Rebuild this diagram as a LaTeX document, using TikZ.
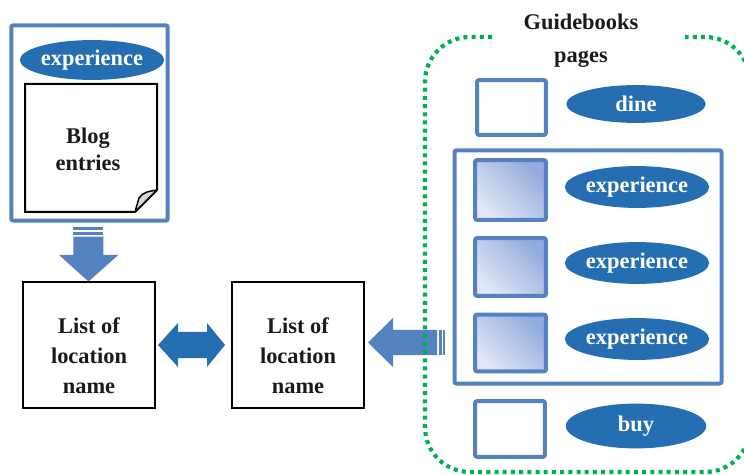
\documentclass[tikz,border=0pt]{standalone}
\usepackage{fontspec}
\setmainfont{Liberation Serif}
\usetikzlibrary{shapes.geometric}

\definecolor{frameblue}{RGB}{84,130,193}
\definecolor{ovalblue}{RGB}{38,110,178}
\definecolor{dotgreen}{RGB}{0,176,80}
\definecolor{shadelight}{RGB}{224,231,246}
\definecolor{shadedark}{RGB}{146,171,220}
\definecolor{inkblack}{RGB}{26,26,26}

\begin{document}
\begin{tikzpicture}[x=1bp,y=-1bp,
  lbl/.style={font=\fontsize{22.5}{29}\selectfont\bfseries, text=inkblack, align=center, inner sep=0pt},
  oval/.style={ellipse, fill=ovalblue, draw=none, text=white,
    font=\fontsize{22.5}{25}\selectfont\bfseries, inner sep=0pt},
  bluebox/.style={rectangle, draw=frameblue, line width=4bp, rounded corners=2bp, inner sep=0pt},
  blackbox/.style={rectangle, draw=black, line width=2bp, inner sep=0pt},
  shadedbox/.style={bluebox, bottom color=shadelight, top color=shadedark, shading angle=-45},
  blockarrow/.style={draw=none, fill=frameblue},
]
\useasboundingbox (0,0) rectangle (744,475);

% ---- blog source -------------------------------------------------
\node[bluebox, minimum width=157, minimum height=196] (blogframe) at (89.5,123) {};
\node[oval, minimum width=141, minimum height=40] (blogoval) at (92,60) {experience};
\draw[line width=2bp, fill=white, line join=miter]
  (25,84) -- (157,84) -- (157,190) -- (135,212) -- (25,212) -- cycle;
\draw[line width=1.5bp, fill=black!15, line join=round]
  (157,190) -- (135,212) -- (139,198) .. controls (143,192) and (150,191) .. cycle;
\node[lbl, font=\fontsize{22.5}{27}\selectfont\bfseries] (blogtext) at (88,149) {Blog\\entries};

% ---- arrow down into the first list -----------------------------
\fill[blockarrow] (73.3,227.3) rectangle (103.3,230);
\fill[blockarrow] (73.3,231.7) rectangle (103.3,235);
\fill[blockarrow] (73.3,236.7) -- (103.3,236.7) -- (103.3,255) -- (118.3,255)
  -- (88.5,281.5) -- (59,255) -- (73.3,255) -- cycle;

% ---- the two location lists ---------------------------------------
\node[blackbox, minimum width=132, minimum height=126] (listA) at (89,345) {};
\node[lbl, font=\fontsize{22.5}{30}\selectfont\bfseries] (listAtext) at (89,356) {List of\\location\\name};
\node[blackbox, minimum width=132, minimum height=126] (listB) at (298,345) {};
\node[lbl, font=\fontsize{22.5}{30}\selectfont\bfseries] (listBtext) at (298,356) {List of\\location\\name};

% two-headed arrow between the lists
\fill[ovalblue] (158,345) -- (178,323) -- (178,332) -- (207,332) -- (207,323)
  -- (225,345) -- (207,367) -- (207,358) -- (178,358) -- (178,367) -- cycle;

% arrow from the guidebook pages into the second list
\fill[blockarrow] (368,342.5) -- (393,318) -- (393,330) -- (437,330) -- (437,355)
  -- (393,355) -- (393,367) -- cycle;
\fill[blockarrow] (439.3,330) rectangle (441.5,355);
\fill[blockarrow] (443,330) rectangle (445.3,355);

% ---- guidebook pages ------------------------------------------------
\node[lbl, font=\fontsize{22.5}{33}\selectfont\bfseries] (guidetitle) at (581,41) {Guidebooks\\pages};
\draw[dotgreen, line width=4.2bp, dash pattern=on 4bp off 4.2bp, rounded corners=45]
  (492,37) -- (425,37) -- (425,472) -- (750,472) -- (750,37) -- (685,37);

\node[bluebox, minimum width=69, minimum height=55] (dinebox) at (511.5,107.5) {};
\node[oval, minimum width=140, minimum height=38] (dine) at (636,104) {dine};

\node[bluebox, minimum width=268, minimum height=234] (expgroup) at (588,267) {};
\node[shadedbox, minimum width=71, minimum height=60] (shotA) at (510.5,190) {};
\node[shadedbox, minimum width=71, minimum height=58] (shotB) at (510.5,267) {};
\node[shadedbox, minimum width=71, minimum height=57] (shotC) at (510.5,343) {};
\node[oval, minimum width=142, minimum height=42] (expA) at (637,187) {experience};
\node[oval, minimum width=142, minimum height=42] (expB) at (637,263) {experience};
\node[oval, minimum width=142, minimum height=42] (expC) at (637,339) {experience};

\node[bluebox, minimum width=70, minimum height=56] (buybox) at (510,429) {};
\node[oval, minimum width=141, minimum height=45] (buy) at (636,426) {buy};
\end{tikzpicture}
\end{document}
